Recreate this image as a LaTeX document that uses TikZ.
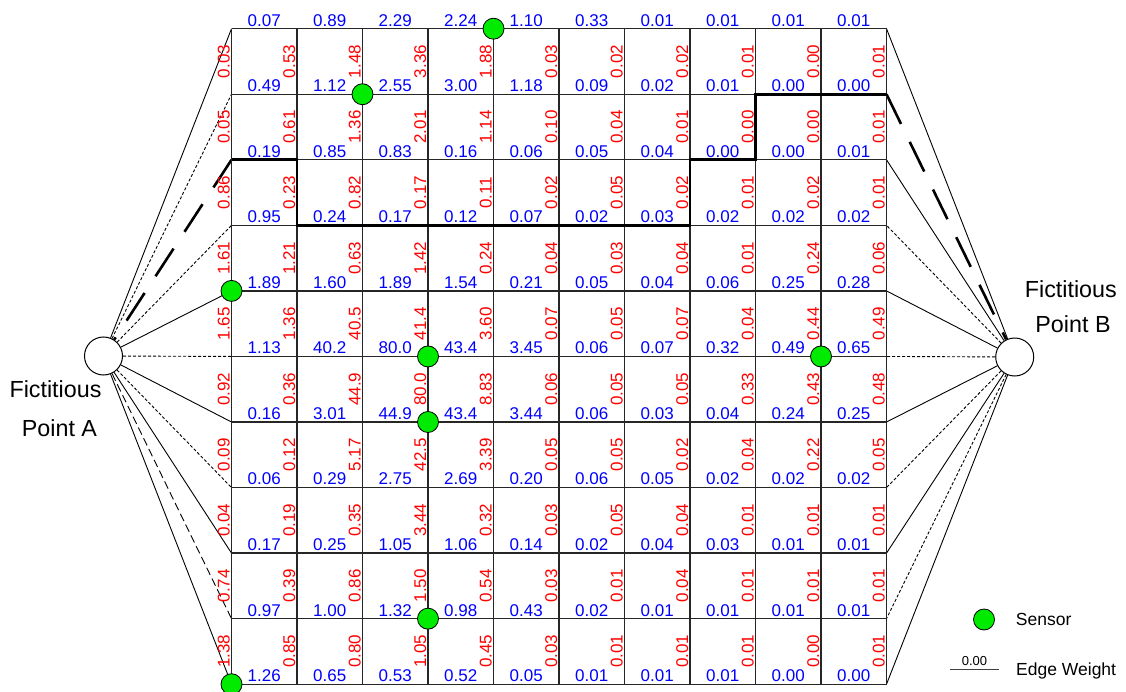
\documentclass[tikz,border=0pt]{standalone}
\usepackage{fontspec}
\setmainfont{Liberation Sans}
\definecolor{sensorgreen}{RGB}{0,235,0}
\newcommand{\hlabrow}[2]{\foreach \val [count=\c from 0] in {#2} {\node[hlab] (h#1-\c) at ({231.5+65.5*(\c+0.5)},{28.7+65.55*#1-2.6}) {\val};}}
\newcommand{\vlabrow}[2]{\foreach \val [count=\c from 0] in {#2} {\node[vlab] (r#1-\c) at ({231.5+65.5*\c-2},{28.7+65.55*(#1+0.5)}) {\val};}}
\begin{document}
\begin{tikzpicture}[x=1pt,y=-1pt,
  gridline/.style={line width=1.3pt, draw=black!85},
  pathline/.style={line width=2.6pt, draw=black, line join=miter},
  longdash/.style={line width=2.6pt, draw=black, dash pattern=on 33pt off 20pt},
  thinsolid/.style={line width=0.9pt, draw=black},
  finedash/.style={line width=0.9pt, draw=black, dash pattern=on 3pt off 2pt},
  meddash/.style={line width=0.9pt, draw=black, dash pattern=on 8pt off 4pt},
  hlab/.style={text=blue, font=\fontsize{17}{17}\selectfont, anchor=base, inner sep=0pt},
  vlab/.style={text=red, font=\fontsize{17}{17}\selectfont, rotate=90, anchor=base, inner sep=0pt},
  sensor/.style={circle, draw=black, fill=sensorgreen, line width=0.8pt, minimum size=21pt, inner sep=0pt},
  fict/.style={circle, draw=black, fill=white, line width=1pt, minimum size=38pt, inner sep=0pt},
  bigtext/.style={font=\fontsize{23.3}{23.3}\selectfont, anchor=base, inner sep=0pt},
  legtext/.style={font=\fontsize{17.5}{17.5}\selectfont, anchor=base west, inner sep=0pt},
]
\useasboundingbox (0,0) rectangle (1126,692);

% grid vertices
\foreach \i in {0,...,10}{
  \foreach \k in {0,...,10}{
    \coordinate (v\i-\k) at ({231.5+65.5*\i},{28.7+65.55*\k});
  }
}

% fictitious points
\node[fict] (A) at (103.5,356) {};
\node[fict] (B) at (1014.7,357) {};

% connectors from A
\draw[thinsolid] (A) -- (v0-0);
\draw[finedash]  (A) -- (v0-1);
\draw[finedash]  (A) -- (v0-3);
\draw[thinsolid] (A) -- (v0-4);
\draw[finedash]  (A) -- (v0-5);
\draw[thinsolid] (A) -- (v0-6);
\draw[finedash]  (A) -- (v0-7);
\draw[thinsolid] (A) -- (v0-8);
\draw[meddash]   (A) -- (v0-9);
\draw[thinsolid] (A) -- (v0-10);
\draw[longdash]  (v0-2) -- (A);

% connectors from B
\draw[thinsolid] (B) -- (v10-0);
\draw[thinsolid] (B) -- (v10-2);
\draw[finedash]  (B) -- (v10-3);
\draw[thinsolid] (B) -- (v10-4);
\draw[finedash]  (B) -- (v10-5);
\draw[thinsolid] (B) -- (v10-6);
\draw[finedash]  (B) -- (v10-7);
\draw[thinsolid] (B) -- (v10-8);
\draw[finedash]  (B) -- (v10-9);
\draw[thinsolid] (B) -- (v10-10);
\draw[longdash]  (v10-1) -- (B);

% grid
\foreach \k in {0,...,10}{ \draw[gridline] (v0-\k) -- (v10-\k); }
\foreach \i in {0,...,10}{ \draw[gridline] (v\i-0) -- (v\i-10); }

% bold path
\draw[pathline] (v0-2) -- (v1-2) -- (v1-3) -- (v7-3) -- (v7-2) -- (v8-2) -- (v8-1) -- (v10-1);

% horizontal edge weights (blue)
\hlabrow{0}{0.07,0.89,2.29,2.24,1.10,0.33,0.01,0.01,0.01,0.01}
\hlabrow{1}{0.49,1.12,2.55,3.00,1.18,0.09,0.02,0.01,0.00,0.00}
\hlabrow{2}{0.19,0.85,0.83,0.16,0.06,0.05,0.04,0.00,0.00,0.01}
\hlabrow{3}{0.95,0.24,0.17,0.12,0.07,0.02,0.03,0.02,0.02,0.02}
\hlabrow{4}{1.89,1.60,1.89,1.54,0.21,0.05,0.04,0.06,0.25,0.28}
\hlabrow{5}{1.13,40.2,80.0,43.4,3.45,0.06,0.07,0.32,0.49,0.65}
\hlabrow{6}{0.16,3.01,44.9,43.4,3.44,0.06,0.03,0.04,0.24,0.25}
\hlabrow{7}{0.06,0.29,2.75,2.69,0.20,0.06,0.05,0.02,0.02,0.02}
\hlabrow{8}{0.17,0.25,1.05,1.06,0.14,0.02,0.04,0.03,0.01,0.01}
\hlabrow{9}{0.97,1.00,1.32,0.98,0.43,0.02,0.01,0.01,0.01,0.01}
\hlabrow{10}{1.26,0.65,0.53,0.52,0.05,0.01,0.01,0.01,0.00,0.00}

% vertical edge weights (red)
\vlabrow{0}{0.03,0.53,1.48,3.36,1.88,0.03,0.02,0.02,0.01,0.00,0.01}
\vlabrow{1}{0.05,0.61,1.36,2.01,1.14,0.10,0.04,0.01,0.00,0.00,0.01}
\vlabrow{2}{0.86,0.23,0.82,0.17,0.11,0.02,0.05,0.02,0.01,0.02,0.01}
\vlabrow{3}{1.61,1.21,0.63,1.42,0.24,0.04,0.03,0.04,0.01,0.24,0.06}
\vlabrow{4}{1.65,1.36,40.5,41.4,3.60,0.07,0.05,0.07,0.04,0.44,0.49}
\vlabrow{5}{0.92,0.36,44.9,80.0,8.83,0.06,0.05,0.05,0.33,0.43,0.48}
\vlabrow{6}{0.09,0.12,5.17,42.5,3.39,0.05,0.05,0.02,0.04,0.22,0.05}
\vlabrow{7}{0.04,0.19,0.35,3.44,0.32,0.03,0.05,0.04,0.01,0.01,0.01}
\vlabrow{8}{0.74,0.39,0.86,1.50,0.54,0.03,0.01,0.04,0.01,0.01,0.01}
\vlabrow{9}{1.38,0.85,0.80,1.05,0.45,0.03,0.01,0.01,0.01,0.00,0.01}

% sensors
\node[sensor] (s1) at (v4-0) {};
\node[sensor] (s2) at (v2-1) {};
\node[sensor] (s3) at (v0-4) {};
\node[sensor] (s4) at (v3-5) {};
\node[sensor] (s5) at (v9-5) {};
\node[sensor] (s6) at (v3-6) {};
\node[sensor] (s7) at (v3-9) {};
\node[sensor] (s8) at (v0-10) {};

% fictitious point labels
\node[bigtext] (tA1) at (55.5,397.5) {Fictitious};
\node[bigtext] (tA2) at (59.5,436.5) {Point A};
\node[bigtext] (tB1) at (1070.8,297.7) {Fictitious};
\node[bigtext] (tB2) at (1073,332.3) {Point B};

% legend
\node[sensor] (legS) at (984,619.5) {};
\node[legtext] (legSt) at (1015.7,625.5) {Sensor};
\coordinate (ew1) at (950,669.7);
\coordinate (ew2) at (999,669.7);
\draw[line width=1pt, draw=black!75] (ew1) -- (ew2);
\node[font=\fontsize{13}{13}\selectfont, anchor=base, inner sep=0pt] (legW) at (974.5,665.3) {0.00};
\node[legtext] (legWt) at (1016,675.5) {Edge Weight};
\end{tikzpicture}
\end{document}
